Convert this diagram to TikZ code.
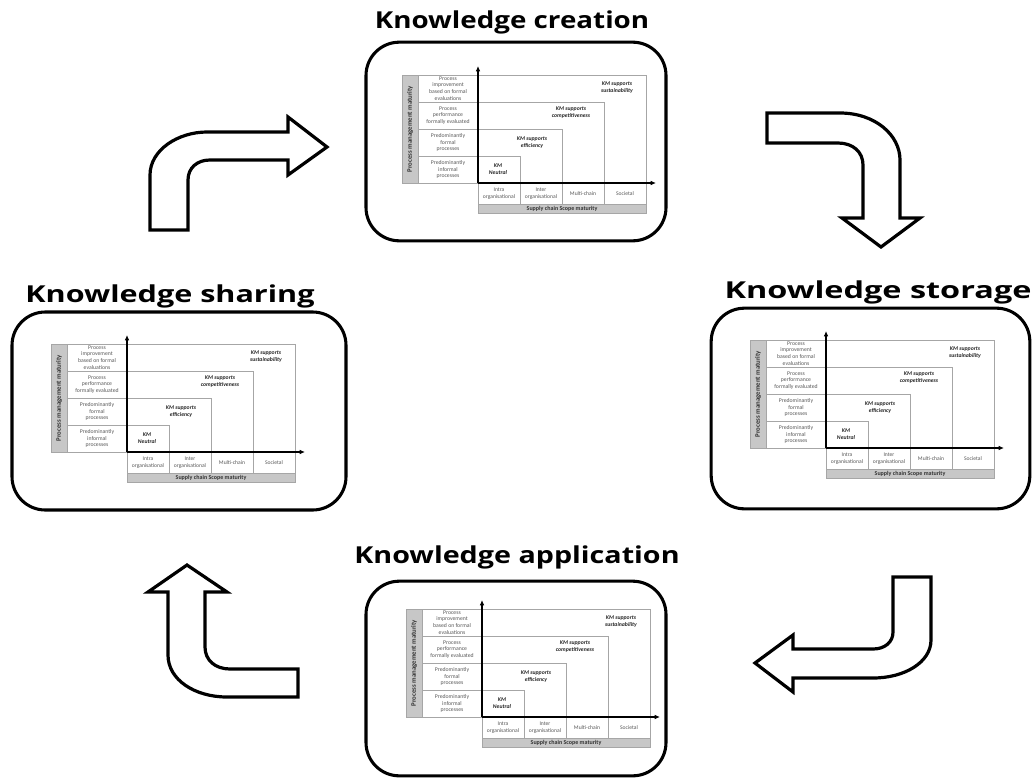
\documentclass[tikz,border=0pt]{standalone}
\usepackage{fontspec}
\usepackage{graphicx}
\setmainfont{Carlito}
\newfontfamily\titlefont{Open Sans}
\usetikzlibrary{arrows.meta}
\tikzset{
  kbox/.style={draw=black, line width=2.3pt, rounded corners=25pt, fill=white},
  ktitle/.style={font=\titlefont\bfseries\fontsize{17.5}{19}\selectfont, inner sep=0pt},
  cl/.style={draw=black!35, line width=0.45pt},
  axis/.style={draw=black, line width=1.3pt, -{Latex[length=4pt,width=3.5pt]}},
  rowlab/.style={align=center, text=black!65, font=\fontsize{4.3}{5}\selectfont, inner sep=0pt},
  collab/.style={align=center, text=black!65, font=\fontsize{4.2}{5}\selectfont, inner sep=0pt},
  kmlab/.style={align=center, text=black!85, font=\bfseries\itshape\fontsize{4.3}{5}\selectfont, inner sep=0pt},
  barlab/.style={text=black!80, font=\bfseries\fontsize{4.5}{5}\selectfont, inner sep=0pt},
  vlab/.style={rotate=90, text=black!80, font=\bfseries\fontsize{5.1}{5.5}\selectfont, inner sep=0pt},
  blockarrow/.style={draw=black, line width=2.4pt, fill=white, line join=miter}
}
\newcommand\kmchart[3]{%
\begin{scope}[shift={(#1,#2)}]
  \fill[black!22] (-76,-108) rectangle (-60,0);
  \draw[cl] (-76,-108) rectangle (168,0);
  \draw[cl] (-60,-108) -- (-60,0);
  \draw[cl] (-60,-81) -- (126,-81) -- (126,21);
  \draw[cl] (-60,-54) -- (84,-54) -- (84,21);
  \draw[cl] (-60,-27) -- (42,-27) -- (42,21);
  \draw[cl] (168,0) -- (168,21);
  \draw[cl] (0,0) -- (0,21);
  \draw[cl, fill=black!22] (0,21) rectangle (168,30);
  \node[vlab] (#3-pm) at (-68,-54) {Process management maturity};
  \node[rowlab] (#3-r4) at (-30,-94.5) {Process\\improvement\\based on formal\\evaluations};
  \node[rowlab] (#3-r3) at (-30,-67.5) {Process\\performance\\formally evaluated};
  \node[rowlab] (#3-r2) at (-30,-40.5) {Predominantly\\formal\\processes};
  \node[rowlab] (#3-r1) at (-30,-13.5) {Predominantly\\informal\\processes};
  \node[collab] (#3-c1) at (21,10.5) {Intra\\organisational};
  \node[collab] (#3-c2) at (63,10.5) {Inter\\organisational};
  \node[collab] (#3-c3) at (105,10.5) {Multi-chain};
  \node[collab] (#3-c4) at (147,10.5) {Societal};
  \node[barlab] (#3-sc) at (84,25.8) {Supply chain Scope maturity};
  \node[kmlab] (#3-k4) at (139,-95.5) {KM supports\\sustainability};
  \node[kmlab] (#3-k3) at (93,-70.5) {KM supports\\competitiveness};
  \node[kmlab] (#3-k2) at (54,-40.5) {KM supports\\efficiency};
  \node[kmlab] (#3-k1) at (20,-14) {KM\\Neutral};
  \coordinate (#3-o) at (0,0);
  \coordinate (#3-yt) at (0,-117);
  \coordinate (#3-xr) at (178,0);
  \draw[axis] (#3-o) -- (#3-yt);
  \draw[axis] (#3-o) -- (#3-xr);
\end{scope}}
\begin{document}
\begin{tikzpicture}[x=0.75pt,y=-0.75pt]
\useasboundingbox (0,0) rectangle (1034,778);
% boxes
\node[kbox, minimum width=225pt, minimum height=149pt] (creation) at (516,141.5) {};
\node[kbox, minimum width=250.5pt, minimum height=148.5pt] (sharing) at (179,411) {};
\node[kbox, minimum width=239pt, minimum height=150.5pt] (storage) at (870.5,408.5) {};
\node[kbox, minimum width=225pt, minimum height=146pt] (application) at (516,678.5) {};
% titles
\node[ktitle] (tcreation) at (512,22) {\scalebox{1.19}[1]{Knowledge creation}};
\node[ktitle] (tsharing) at (170,296) {\scalebox{1.31}[1]{Knowledge sharing}};
\node[ktitle] (tstorage) at (878,292) {\scalebox{1.39}[1]{Knowledge storage}};
\node[ktitle] (tapplication) at (517,557) {\scalebox{1.23}[1]{Knowledge application}};
% charts
\kmchart{478}{183}{c}
\kmchart{127}{452}{sh}
\kmchart{826}{448}{st}
\kmchart{482}{717}{ap}
% block arrows
\draw[blockarrow] (150,230) -- (150,175) .. controls (150,150) and (178,132) .. (207,132)
  -- (288,132) -- (288,117) -- (327,147) -- (288,175) -- (288,160) -- (210,160)
  .. controls (197,160) and (188,168) .. (188,180) -- (188,230) -- cycle;
\draw[blockarrow] (767,113) -- (840,113) .. controls (875,113) and (900,135) .. (900,160)
  -- (900,218) -- (920,218) -- (881,247) -- (842,218) -- (863,218) -- (863,165)
  .. controls (863,152) and (853,143) .. (838,143) -- (767,143) -- cycle;
\draw[blockarrow] (893,577) -- (931,577) -- (931,640) .. controls (931,662) and (905,678) .. (873,678)
  -- (793,678) -- (793,692) -- (755,663) -- (793,635) -- (793,649) -- (873,649)
  .. controls (885,649) and (893,642) .. (893,632) -- cycle;
\draw[blockarrow] (298,669) -- (230,669) .. controls (215,669) and (205,660) .. (205,647)
  -- (205,592) -- (227,592) -- (187,565) -- (148,592) -- (168,592) -- (168,655)
  .. controls (168,680) and (195,697) .. (227,697) -- (298,697) -- cycle;
\end{tikzpicture}
\end{document}
